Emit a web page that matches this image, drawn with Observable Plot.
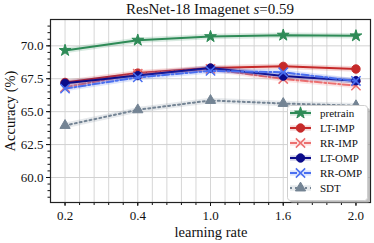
<!DOCTYPE html>
<html><head><meta charset="utf-8">
<script src="https://cdn.jsdelivr.net/npm/d3@7"></script>
<script src="https://cdn.jsdelivr.net/npm/@observablehq/plot@0.6"></script>
<style>body{margin:0;background:#fff}</style>
</head><body><div id="chart"></div>
<script>
const categories = ["0.2", "0.4", "1.0", "1.6", "2.0"];
const yTicks = [60.0, 62.5, 65.0, 67.5, 70.0];
const seriesNames = ["pretrain", "LT-IMP", "RR-IMP", "LT-OMP", "RR-OMP", "SDT"];
const pretrain = [69.65, 70.43, 70.70, 70.81, 70.76];
const ltImp = [67.22, 67.93, 68.31, 68.44, 68.24];
const rrImp = [66.85, 67.88, 68.25, 67.48, 66.98];
const ltOmp = [67.15, 67.74, 68.31, 67.70, 67.35];
const rrOmp = [66.75, 67.60, 68.10, 67.99, 67.33];
const sdt = [63.95, 65.14, 65.85, 65.62, 65.45];

const styles = {
  "pretrain": {color: "#2e8b57", symbol: "star", dash: null, r: 3.7},
  "LT-IMP": {color: "#c62a2a", symbol: "circle", dash: null, r: 4.2},
  "RR-IMP": {color: "#ec7070", symbol: "times", dash: "7,2.5,2,2.5", r: 4.3},
  "LT-OMP": {color: "#0b0b8a", symbol: "circle", dash: null, r: 4.2},
  "RR-OMP": {color: "#4a6ff0", symbol: "times", dash: "7,2.5,2,2.5", r: 4.3},
  "SDT": {color: "#748494", symbol: "triangle", dash: "2,3", r: 3.8}
};
const values = [pretrain, ltImp, rrImp, ltOmp, rrOmp, sdt];

const marks = [
  Plot.gridX(d3.range(0, 4.01, 0.2), {stroke: "#d6d6d6", strokeOpacity: 1}),
  Plot.gridY(yTicks, {stroke: "#d2d2d2", strokeOpacity: 1}),
  Plot.axisY(d3.range(58.5, 72, 0.5), {tickSize: 2.5, tickFormat: () => "", label: null}),
  Plot.axisY(yTicks, {tickSize: 4, tickPadding: 3, tickFormat: d => d.toFixed(1), label: null, fontSize: 13}),
  Plot.axisX(d3.range(0, 4.01, 0.2), {tickSize: 3, tickFormat: () => "", label: null}),
  Plot.axisX(d3.range(0, 5), {tickSize: 4, tickPadding: 4, tickFormat: i => categories[i], label: null, fontSize: 13})
];
seriesNames.forEach((name, k) => {
  const s = styles[name];
  const rows = values[k].map((v, i) => ({x: i, y: v}));
  marks.push(Plot.line(rows, {x: "x", y: "y", stroke: s.color, strokeWidth: 5.5, strokeOpacity: 0.18}));
  marks.push(Plot.line(rows, {x: "x", y: "y", stroke: s.color, strokeWidth: 2, strokeDasharray: s.dash}));
  if (s.symbol === "times") {
    marks.push(Plot.dot(rows, {x: "x", y: "y", symbol: "times", r: s.r, stroke: s.color, strokeWidth: 1.5}));
  } else {
    marks.push(Plot.dot(rows, {x: "x", y: "y", symbol: s.symbol, r: s.r, fill: s.color, stroke: s.color, strokeWidth: 1}));
  }
});
marks.push(Plot.frame({stroke: "#222", strokeWidth: 1.2}));

const ff = "'Liberation Serif', 'Times New Roman', serif";
const plot = Plot.plot({
  width: 374, height: 243,
  marginTop: 19, marginBottom: 41, marginLeft: 50, marginRight: 4,
  style: {fontFamily: ff, fontSize: "13px", color: "#111", background: "#fff"},
  x: {type: "linear", domain: [-0.2, 4.2]},
  y: {domain: [58.1, 72]},
  marks
});
document.getElementById("chart").appendChild(plot);

const svg = d3.select(plot);
// title
const t = svg.append("text").attr("x", 210).attr("y", 14).attr("text-anchor", "middle")
  .style("font-family", ff).attr("font-size", 15).attr("fill", "#111");
t.append("tspan").text("ResNet-18 Imagenet ");
t.append("tspan").attr("font-style", "italic").text("s");
t.append("tspan").text("=0.59");
// axis labels
svg.append("text").attr("transform", "translate(15,111) rotate(-90)").attr("text-anchor", "middle")
  .style("font-family", ff).attr("font-size", 14.5).attr("fill", "#111").text("Accuracy (%)");
svg.append("text").attr("x", 211).attr("y", 237).attr("text-anchor", "middle")
  .style("font-family", ff).attr("font-size", 14.5).attr("fill", "#111").text("learning rate");

// legend
const lg = svg.append("g");
lg.append("rect").attr("x", 290).attr("y", 108).attr("width", 80).attr("height", 95).attr("rx", 3)
  .attr("fill", "#999").attr("opacity", 0.6);
lg.append("rect").attr("x", 287.5).attr("y", 105.5).attr("width", 80).attr("height", 95).attr("rx", 3)
  .attr("fill", "#fff").attr("stroke", "#cfcfcf");
const symMap = {star: d3.symbolStar, circle: d3.symbolCircle, times: d3.symbolTimes, triangle: d3.symbolTriangle};
seriesNames.forEach((name, k) => {
  const s = styles[name];
  const y = 113 + k * 15;
  lg.append("line").attr("x1", 290).attr("x2", 311).attr("y1", y).attr("y2", y)
    .attr("stroke", s.color).attr("stroke-width", 5.5).attr("stroke-opacity", 0.18);
  lg.append("line").attr("x1", 290).attr("x2", 311).attr("y1", y).attr("y2", y)
    .attr("stroke", s.color).attr("stroke-width", 2).attr("stroke-dasharray", s.dash);
  const p = d3.symbol(symMap[s.symbol], Math.PI * s.r * s.r)();
  const m = lg.append("path").attr("d", p).attr("transform", `translate(300.5,${y})`);
  if (s.symbol === "times") m.attr("fill", "none").attr("stroke", s.color).attr("stroke-width", 1.5);
  else m.attr("fill", s.color).attr("stroke", s.color);
  lg.append("text").attr("x", 320).attr("y", y).attr("dy", "0.35em").attr("text-anchor", "start")
    .style("font-family", ff).attr("font-size", 11).attr("fill", "#111").text(name);
});
</script></body></html>
